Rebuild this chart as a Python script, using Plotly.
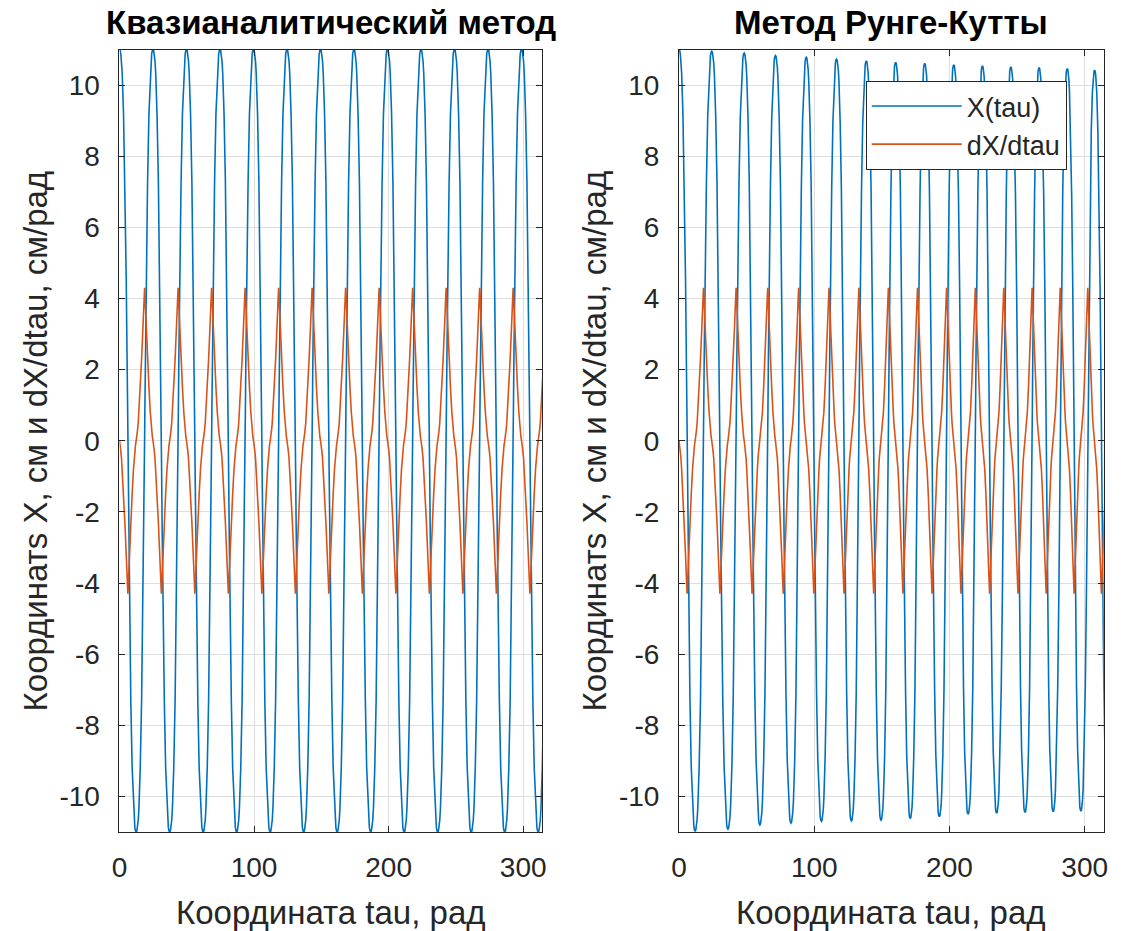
import plotly.graph_objects as go

# ---------------- data ----------------
# Quasi-analytic method: times (rad) of successive extrema of X(tau) and their values (cm)
qa_ext_tau = [0.0, 12.4, 24.9, 37.3, 49.8, 62.2, 74.7, 87.1, 99.6, 112.0, 124.5, 136.9,
              149.4, 161.8, 174.3, 186.7, 199.2, 211.6, 224.1, 236.5, 249.0, 261.4,
              273.9, 286.3, 298.8, 311.2, 323.7]
qa_ext_val = [11.0, -11.0, 11.0, -11.0, 11.0, -11.0, 11.0, -11.0, 11.0, -11.0, 11.0, -11.0,
              11.0, -11.0, 11.0, -11.0, 11.0, -11.0, 11.0, -11.0, 11.0, -11.0,
              11.0, -11.0, 11.0, -11.0, 11.0]

# Runge-Kutta method: extrema of X(tau) (amplitude and period slowly shrink)
rk_ext_tau = [0.0, 11.9, 24.2, 36.2, 48.2, 59.8, 71.3, 82.8, 94.1, 105.3, 116.5, 127.5,
              138.5, 149.4, 160.2, 171.0, 181.7, 192.5, 203.2, 213.8, 224.4, 234.9,
              245.4, 255.9, 266.3, 276.7, 287.1, 297.2, 307.3, 317.4]
rk_ext_val = [11.0, -10.97, 10.95, -10.92, 10.9, -10.8, 10.83, -10.75, 10.78, -10.7,
              10.73, -10.69, 10.68, -10.67, 10.64, -10.62, 10.61, -10.57, 10.57, -10.5,
              10.54, -10.47, 10.51, -10.45, 10.49, -10.43, 10.46, -10.41, 10.42, -10.4]

# Shape of one quarter swing (quarter period = 6.2 rad):
# distance from an extremum, |X| (cm) and |dX/dtau| (cm/rad)
prof_e = [0.0, 0.5, 1.0, 1.5, 2.0, 3.0, 4.0, 5.0, 5.6, 6.0, 6.2]
prof_x = [11.0, 10.97, 10.87, 10.67, 10.34, 9.19, 7.29, 4.54, 2.44, 0.84, 0.0]
prof_dx = [0.0, 0.12, 0.3, 0.5, 0.8, 1.5, 2.3, 3.2, 3.8, 4.2, 4.3]

x_ticks = [0, 100, 200, 300]
x_tick_text = ["0", "100", "200", "300"]
y_ticks = [-10, -8, -6, -4, -2, 0, 2, 4, 6, 8, 10]
y_tick_text = ["-10", "-8", "-6", "-4", "-2", "0", "2", "4", "6", "8", "10"]
TAU_MAX = 314.159

titles = ["Квазианалитический метод", "Метод Рунге-Кутты"]
x_title = "Координата tau, рад"
y_title = "Координатs X, см и dX/dtau, см/рад"
names = ["X(tau)", "dX/dtau"]

BLUE = "#0072BD"
ORANGE = "#D95319"
DARK = "#262626"
GRID = "#DEDEDE"
FONT = "Liberation Sans, Arial, Helvetica, sans-serif"


def build(ext_t, ext_v):
    q0 = prof_e[-1]
    ts, xs, ds = [], [], []
    for i in range(len(ext_t) - 1):
        ta, tb = ext_t[i], ext_t[i + 1]
        va, vb = ext_v[i], ext_v[i + 1]
        h = (tb - ta) / 2.0
        sa = 1 if va > 0 else -1
        sb = 1 if vb > 0 else -1
        for e, px, pd in zip(prof_e[:-1], prof_x[:-1], prof_dx[:-1]):
            ts.append(ta + e / q0 * h)
            xs.append(abs(va) * sa * px / prof_x[0])
            ds.append(-sa * pd)
        ts.append(ta + h)
        xs.append(0.0)
        ds.append(-sa * prof_dx[-1])
        for e, px, pd in reversed(list(zip(prof_e[1:-1], prof_x[1:-1], prof_dx[1:-1]))):
            ts.append(tb - e / q0 * h)
            xs.append(abs(vb) * sb * px / prof_x[0])
            ds.append(sb * pd)
    ts.append(ext_t[-1])
    xs.append(ext_v[-1])
    ds.append(0.0)
    return ts, xs, ds


fig = go.Figure()

panels = [(qa_ext_tau, qa_ext_val, "x", "y", False),
          (rk_ext_tau, rk_ext_val, "x2", "y2", True)]
for ext_t, ext_v, xa, ya, show in panels:
    t, xv, dv = build(ext_t, ext_v)
    fig.add_trace(go.Scatter(x=t, y=xv, mode="lines", name=names[0], xaxis=xa, yaxis=ya,
                             line=dict(color=BLUE, width=1.6), showlegend=show))
    fig.add_trace(go.Scatter(x=t, y=dv, mode="lines", name=names[1], xaxis=xa, yaxis=ya,
                             line=dict(color=ORANGE, width=1.6), showlegend=show))

W, H = 1121, 931
left_dom = [112.7 / W, 540.0 / W]
right_dom = [678.3 / W, 1107.7 / W]
y_dom = [(H - 832.0) / H, (H - 49.5) / H]

axis_common = dict(
    showline=True, linecolor=DARK, linewidth=1, mirror="ticks",
    ticks="inside", ticklen=6, tickcolor=DARK, tickwidth=1,
    showgrid=True, gridcolor=GRID, gridwidth=1, zeroline=False,
    tickfont=dict(family=FONT, size=28, color=DARK),
)
xa_common = dict(range=[0, TAU_MAX], tickvals=x_ticks, ticktext=x_tick_text,
                 ticklabelstandoff=10, **axis_common)
ya_common = dict(domain=y_dom, range=[-11, 11], tickvals=y_ticks, ticktext=y_tick_text,
                 ticklabelstandoff=13, **axis_common)

fig.update_layout(
    width=W, height=H,
    margin=dict(l=0, r=0, t=0, b=0),
    paper_bgcolor="white", plot_bgcolor="white",
    xaxis=dict(domain=left_dom, anchor="y", **xa_common),
    yaxis=dict(anchor="x", **ya_common),
    xaxis2=dict(domain=right_dom, anchor="y2", **xa_common),
    yaxis2=dict(anchor="x2", **ya_common),
    legend=dict(x=867 / W, y=(H - 81) / H, xanchor="left", yanchor="top",
                bgcolor="white", bordercolor=DARK, borderwidth=1,
                font=dict(family=FONT, size=27, color=DARK), itemwidth=90,
                tracegroupgap=0),
    font=dict(family=FONT, color=DARK),
)

ann = []
for dom, title in zip([left_dom, right_dom], titles):
    cx = (dom[0] + dom[1]) / 2
    ann.append(dict(text="<b>" + title + "</b>", x=cx, y=(H - 22) / H, xref="paper", yref="paper",
                    showarrow=False, xanchor="center", yanchor="middle",
                    font=dict(family=FONT, size=33, color="black")))
    ann.append(dict(text=x_title, x=cx, y=(H - 912) / H, xref="paper", yref="paper",
                    showarrow=False, xanchor="center", yanchor="middle",
                    font=dict(family=FONT, size=33, color=DARK)))
for xc in [28, 593]:
    ann.append(dict(text=y_title, x=xc / W, y=(y_dom[0] + y_dom[1]) / 2, xref="paper",
                    yref="paper", showarrow=False, textangle=-90, xanchor="center",
                    yanchor="middle", font=dict(family=FONT, size=33, color=DARK)))
fig.update_layout(annotations=ann)

fig.write_html("out.html")
